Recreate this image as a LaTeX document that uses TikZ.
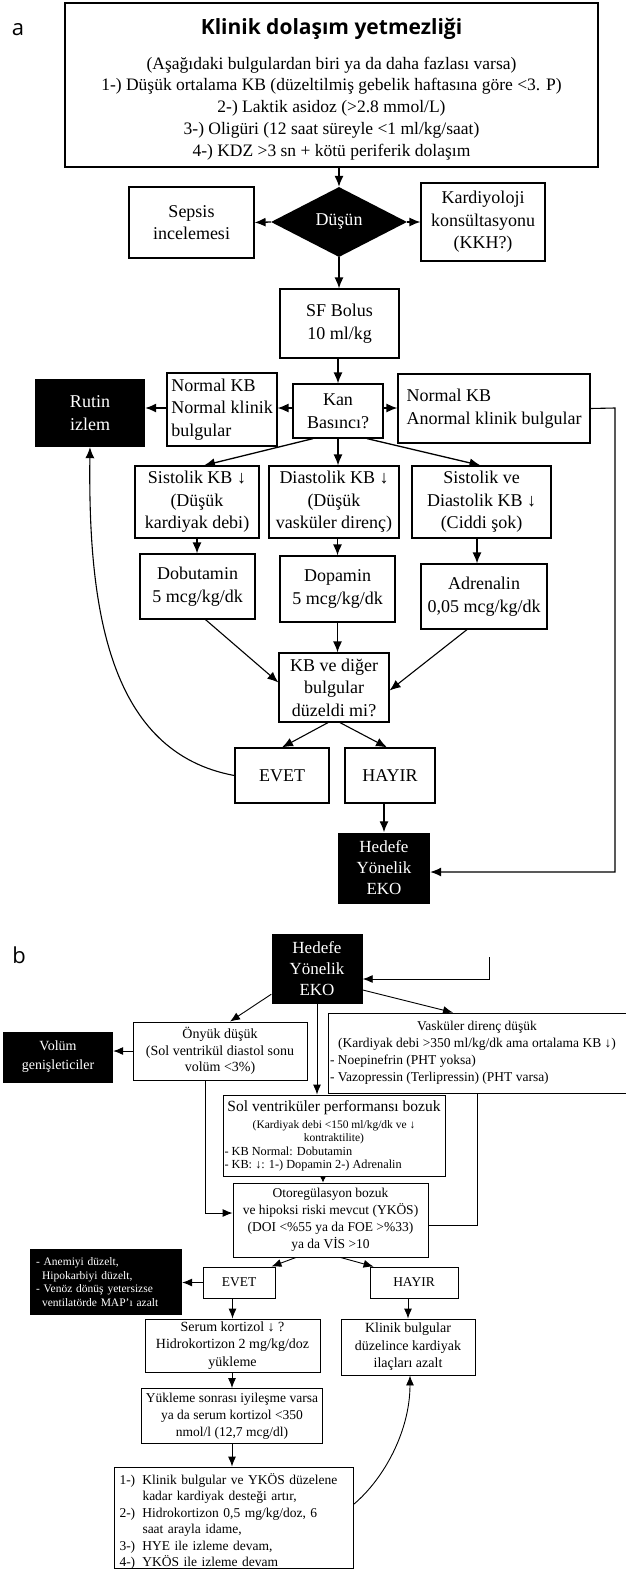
\documentclass[tikz,border=0pt]{standalone}
\usepackage{fontspec}
\setmainfont{Liberation Serif}
\newfontfamily\labfont{Open Sans}
\usetikzlibrary{shapes.geometric,arrows.meta}
\newcommand\fA{\fontsize{18}{22.5}\selectfont}
\newcommand\fT{\fontsize{17.5}{21.8}\selectfont}
\newcommand\fB{\fontsize{13.5}{17}\selectfont}
\newcommand\fS{\fontsize{11.5}{12.8}\selectfont}
\newcommand\fN{\fontsize{11.5}{13.5}\selectfont}
\newcommand\fE{\fontsize{17}{21}\selectfont}
\begin{document}
\begin{tikzpicture}[x=1pt,y=-1pt,
  box/.style={draw, line width=1.2pt, fill=white, inner sep=0pt, align=center, font=\fA},
  boxb/.style={draw, line width=0.9pt, fill=white, inner sep=0pt, align=center, font=\fB},
  blk/.style={fill=black, text=white, inner sep=0pt, align=center},
  sz/.style 2 args={minimum width=#1pt, minimum height=#2pt},
  arr/.style={-{Latex[length=11pt,width=9pt]}, line width=1.3pt},
  arrb/.style={-{Latex[length=10pt,width=8pt]}, line width=0.9pt},
  lnk/.style={line width=1.1pt},
  lnkb/.style={line width=0.9pt},
  lab/.style={font=\labfont\fontsize{22}{24}\selectfont, inner sep=0pt}
]
\useasboundingbox[fill=white] (0,0) rectangle (626,1579);

% ---------------- part a ----------------
\node[lab] (la) at (18,30) {a};
\node[box, sz={533}{164}] (title) at (331.5,85) {};
\node[inner sep=0pt, align=center, font=\fT] (titletxt) at ([yshift=-4]title.center)
 {{\labfont\bfseries\fontsize{21}{24}\selectfont Klinik dolaşım yetmezliği}\\[13pt]
  (Aşağıdaki bulgulardan biri ya da daha fazlası varsa)\\
  1-) Düşük ortalama KB (düzeltilmiş gebelik haftasına göre <3. P)\\
  2-) Laktik asidoz (>2.8 mmol/L)\\
  3-) Oligüri (12 saat süreyle <1 ml/kg/saat)\\
  4-) KDZ >3 sn + kötü periferik dolaşım};
\node[diamond, fill=black, text=white, inner sep=0pt, minimum width=136pt, minimum height=70pt, font=\fA] (dusun) at (339,222) {Düşün};
\node[box, sz={125}{71}] (sepsis) at (191.5,222.5) {Sepsis\\incelemesi};
\node[box, sz={124}{78}] (kard) at (483,222) {Kardiyoloji\\konsültasyonu\\(KKH?)};
\node[box, sz={119}{69}] (sf) at (339.5,323.5) {SF Bolus\\10 ml/kg};
\node[box, sz={90}{54}] (kan) at (338,411) {Kan\\Basıncı?};
\node[box, sz={110}{73}, align=left] (nn) at (222,409.5) {Normal KB\\Normal klinik\\bulgular};
\node[blk, sz={110}{68}, font=\fA] (rutin) at (90,413) {Rutin\\izlem};
\node[box, sz={192}{69}, align=left] (na) at (494,408.5) {Normal KB\\Anormal klinik bulgular};
\node[box, sz={124}{72}] (sk) at (197,502) {Sistolik KB ↓\\(Düşük\\kardiyak debi)};
\node[box, sz={130}{72}] (dk) at (334,502) {Diastolik KB ↓\\(Düşük\\vasküler direnç)};
\node[box, sz={139}{72}] (svd) at (481.5,502) {Sistolik ve\\Diastolik KB ↓\\(Ciddi şok)};
\node[box, sz={115}{65}] (dobu) at (197.5,586.5) {Dobutamin\\5 mcg/kg/dk};
\node[box, sz={115}{66}] (dopa) at (337.5,589) {Dopamin\\5 mcg/kg/dk};
\node[box, sz={126}{65}] (adre) at (484,596.5) {Adrenalin\\0,05 mcg/kg/dk};
\node[box, sz={110}{69}] (kbd) at (334,687.5) {KB ve diğer\\bulgular\\düzeldi mi?};
\node[box, sz={94}{55}] (evta) at (282,775.5) {EVET};
\node[box, sz={90}{55}] (hyra) at (390,775.5) {HAYIR};
\node[blk, sz={92}{71}, font=\fE] (ekoa) at (384,868) {Hedefe\\Yönelik\\EKO};
\coordinate (ra) at (615,408);

\draw[arr] (dusun.north |- title.south) -- (dusun.north);
\draw[arr] (dusun.west) -- (sepsis.east);
\draw[arr] (dusun.east) -- (kard.west);
\draw[arr] (dusun.south) -- (sf.north -| dusun.south);
\draw[arr] (sf.south -| kan.north) -- (kan.north);
\draw[arr] ([yshift=3]kan.west) -- ([yshift=3]kan.west -| nn.east);
\draw[arr] ([yshift=1.5]nn.west) -- ([yshift=1.5]nn.west -| rutin.east);
\draw[arr] ([yshift=3]kan.east) -- ([yshift=3]kan.east -| na.west);
\draw[arr] ([xshift=-25]kan.south) -- ([xshift=7]sk.north);
\draw[arr] (kan.south) -- (kan.south |- dk.north);
\draw[arr] ([xshift=29]kan.south) -- ([xshift=-1]svd.north);
\draw[arr] (sk.south) -- (sk.south |- dobu.north);
\draw[arr] (dk.south -| dopa.north) -- (dopa.north);
\draw[arr] ([xshift=-4.5]svd.south) -- ([xshift=-4.5]svd.south |- adre.north);
\draw[lnk,-{Latex[length=11pt,width=9pt]}] ([xshift=8]dobu.south) -- ([yshift=5]kbd.west);
\draw[arr] (dopa.south) -- (dopa.south |- kbd.north);
\draw[lnk,-{Latex[length=11pt,width=9pt]}] ([xshift=-17]adre.south) -- ([yshift=-3]kbd.east);
\draw[lnk,-{Latex[length=11pt,width=9pt]}] ([xshift=-6]kbd.south) -- (evta.north);
\draw[lnk,-{Latex[length=11pt,width=9pt]}] ([xshift=6]kbd.south) -- ([xshift=-3]hyra.north);
\draw[arr] (hyra.south -| ekoa.north) -- (ekoa.north);
\draw[lnk,-{Latex[length=11pt,width=9pt]}] (na.east) -- (ra) |- ([yshift=-4]ekoa.east);
\draw[lnk,-{Latex[length=11pt,width=9pt]}] (evta.west) .. controls +(-125,-23) and +(-2,163) .. (rutin.south);

% ---------------- part b ----------------
\node[lab] (lb) at (19,955) {b};
\node[blk, sz={91}{70}, font=\fE] (ekob) at (317,969) {Hedefe\\Yönelik\\EKO};
\coordinate (fb) at (489,957);
\node[blk, sz={110}{51}, font=\fontsize{14}{19}\selectfont] (volum) at (58,1057) {Volüm\\genişleticiler};
\node[boxb, sz={174}{58}, font=\fontsize{14}{16.5}\selectfont] (onyuk) at (220,1051) {Önyük düşük\\(Sol ventrikül diastol sonu\\volüm <3\%)};
\node[boxb, sz={298}{80}] (vask) at (477,1053) {Vasküler direnç düşük\\(Kardiyak debi >350 ml/kg/dk ama ortalama KB ↓)\\
  \makebox[294pt][l]{- Noepinefrin (PHT yoksa)}\\
  \makebox[294pt][l]{- Vazopressin (Terlipressin) (PHT varsa)}};
\node[boxb, sz={222}{81}, font=\fS] (sol) at (334,1135.5)
 {{\fontsize{15.5}{16}\selectfont Sol ventriküler performansı bozuk}\\[5pt]
  (Kardiyak debi <150 ml/kg/dk ve ↓\\
  kontraktilite)\\[1pt]
  {\fontsize{12.3}{12.8}\selectfont\makebox[219pt][l]{- KB Normal: Dobutamin}}\\
  {\fontsize{12.3}{12.8}\selectfont\makebox[219pt][l]{- KB: ↓: 1-) Dopamin 2-) Adrenalin}}};
\node[boxb, sz={195}{74}] (oto) at (330.5,1220) {Otoregülasyon bozuk\\ve hipoksi riski mevcut (YKÖS)\\(DOI <\%55 ya da FOE >\%33)\\ya da VİS >10};
\node[blk, sz={152}{66}, font=\fN, text width=140pt, align=left] (note) at (106,1282)
 {- Anemiyi düzelt,\\\hspace*{6pt}Hipokarbiyi düzelt,\\- Venöz dönüş yetersizse\\\hspace*{6pt}ventilatörde MAP’ı azalt};
\node[boxb, sz={72}{31}] (evtb) at (239,1282.5) {EVET};
\node[boxb, sz={88}{31}] (hyrb) at (414,1282.5) {HAYIR};
\node[boxb, sz={175}{53}, font=\fontsize{14}{17.5}\selectfont] (serum) at (232.5,1345.5) {Serum kortizol ↓ ?\\Hidrokortizon 2 mg/kg/doz\\yükleme};
\node[boxb, sz={134}{56}, font=\fontsize{14}{17.5}\selectfont] (klin) at (408,1347) {Klinik bulgular\\düzelince kardiyak\\ilaçları azalt};
\node[boxb, sz={181}{55}] (yuk) at (232,1416) {Yükleme sonrası iyileşme varsa\\ya da serum kortizol <350\\nmol/l (12,7 mcg/dl)};
\node[boxb, sz={239}{101}] (final) at (233.5,1517.5) {};
\node[inner sep=0pt, text width=228pt, align=left, font=\fontsize{13.5}{16.4}\selectfont] (finaltxt) at ([yshift=-4]final.center)
 {\makebox[23pt][l]{1-)}Klinik bulgular ve YKÖS düzelene\\
  \hspace*{23pt}kadar kardiyak desteği artır,\\
  \makebox[23pt][l]{2-)}Hidrokortizon 0,5 mg/kg/doz, 6\\
  \hspace*{23pt}saat arayla idame,\\
  \makebox[23pt][l]{3-)}HYE ile izleme devam,\\
  \makebox[23pt][l]{4-)}YKÖS ile izleme devam};

\draw[arrb] (fb) |- ([yshift=-10]ekob.east);
\draw[arrb] ([yshift=10]ekob.south west) -- ([xshift=10]onyuk.north);
\draw[arrb] ([yshift=-21]ekob.east) -- ([xshift=-24]vask.north);
\draw[arrb] (ekob.south) -- (ekob.south |- sol.north);
\draw[arrb] (onyuk.west) -- (onyuk.west -| volum.east);
\draw[arrb] ([xshift=-15]onyuk.south) |- ([yshift=7]oto.west);
\draw[lnkb] (vask.south) |- ([yshift=-5]oto.east);
\draw[lnkb,-{Latex[length=6pt,width=6pt]}] ([xshift=-11]sol.south) -- ([xshift=-11]sol.south |- oto.north);
\draw[arrb] ([xshift=-34.5]oto.south) -- ([xshift=-4]evtb.north east);
\draw[arrb] ([xshift=10]oto.south) -- ([xshift=4]hyrb.north west);
\draw[arrb] (evtb.west) -- (evtb.west -| note.east);
\draw[arrb] (serum.north |- evtb.south) -- (serum.north);
\draw[arrb] (klin.north |- hyrb.south) -- (klin.north);
\draw[arrb] (yuk.north |- serum.south) -- (yuk.north);
\draw[arrb] (yuk.south) -- (yuk.south |- final.north);
\draw[lnkb,-{Latex[length=10pt,width=8pt]}] ([yshift=13]final.east) .. controls +(31,-26) and +(0,55) .. ([xshift=2]klin.south);
\end{tikzpicture}
\end{document}
